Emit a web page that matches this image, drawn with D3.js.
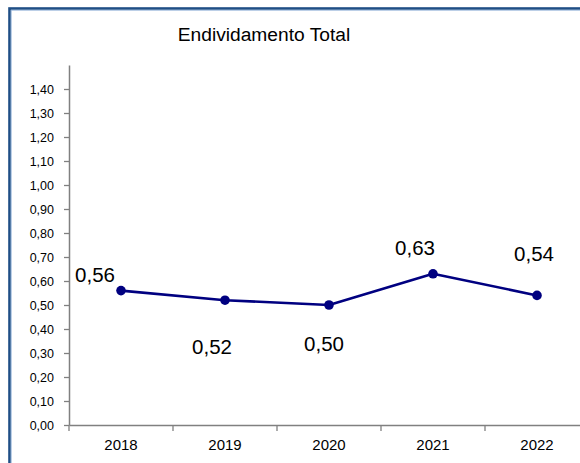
<!DOCTYPE html>
<html>
<head>
<meta charset="utf-8">
<script src="https://cdn.jsdelivr.net/npm/d3@7"></script>
<style>
  html, body { margin: 0; padding: 0; background: #fff; }
  svg { display: block; font-family: Arial, "Liberation Sans", sans-serif; }
</style>
</head>
<body>
<svg id="chart" width="580" height="463"></svg>
<script>
const title = "Endividamento Total";
const years = ["2018", "2019", "2020", "2021", "2022"];
const values = [0.56, 0.52, 0.50, 0.63, 0.54];
const yTicks = [0, 0.1, 0.2, 0.3, 0.4, 0.5, 0.6, 0.7, 0.8, 0.9, 1.0, 1.1, 1.2, 1.3, 1.4];
const yMax = 1.5;

// label placement offsets (relative to the point), layout only
const labelOffsets = [[-26, -9], [-13, 54], [-5, 46], [-18, -19], [-3, -34]];

const fmt = v => d3.format(".2f")(v).replace(".", ",");

const svg = d3.select("#chart");

// frame
svg.append("rect")
  .attr("x", 9.5).attr("y", 8.5)
  .attr("width", 600).attr("height", 500)
  .attr("fill", "#fff")
  .attr("stroke", "#1f4e85").attr("stroke-width", 2.6);
svg.append("rect")
  .attr("x", 11.2).attr("y", 10.2)
  .attr("width", 600).attr("height", 500)
  .attr("fill", "none")
  .attr("stroke", "#8fb0d8").attr("stroke-width", 0.8);

const mLeft = 69, mRight = 589, mTop = 65, mBottom = 425;

const x = d3.scaleBand().domain(years).range([mLeft, mRight]);
const y = d3.scaleLinear().domain([0, yMax]).range([mBottom, mTop]);

// title
svg.append("text")
  .attr("x", 264).attr("y", 41)
  .attr("text-anchor", "middle")
  .attr("font-size", 19.2)
  .attr("fill", "#000")
  .text(title);

// y axis
const yAxis = svg.append("g")
  .attr("transform", `translate(${mLeft},0)`)
  .call(d3.axisLeft(y).tickValues(yTicks).tickFormat(fmt).tickSize(5).tickPadding(10).tickSizeOuter(0));
yAxis.select(".domain").attr("stroke", "#808080").attr("stroke-width", 1.5);
yAxis.selectAll(".tick line").attr("stroke", "#808080").attr("stroke-width", 1.3);
yAxis.selectAll(".tick text").attr("font-size", 12.5).attr("fill", "#000")
  .attr("font-family", "Arial, 'Liberation Sans', sans-serif");

// x axis
const xAxis = svg.append("g")
  .attr("transform", `translate(0,${mBottom})`)
  .call(d3.axisBottom(x).tickSize(0).tickPadding(14));
xAxis.select(".domain").attr("stroke", "#808080").attr("stroke-width", 1.5);
xAxis.selectAll(".tick text").attr("font-size", 15).attr("fill", "#000")
  .attr("font-family", "Arial, 'Liberation Sans', sans-serif");
// category boundary ticks
svg.append("g").selectAll("line")
  .data(years)
  .join("line")
  .attr("x1", d => x(d)).attr("x2", d => x(d))
  .attr("y1", mBottom).attr("y2", mBottom + 6)
  .attr("stroke", "#808080").attr("stroke-width", 1.3);

const cx = d => x(d) + x.bandwidth() / 2;

// line
const line = d3.line()
  .x((d, i) => cx(years[i]))
  .y(d => y(d));
svg.append("path")
  .datum(values)
  .attr("fill", "none")
  .attr("stroke", "#000080")
  .attr("stroke-width", 2.6)
  .attr("stroke-linejoin", "round")
  .attr("d", line);

// markers
svg.append("g").selectAll("circle")
  .data(values)
  .join("circle")
  .attr("cx", (d, i) => cx(years[i]))
  .attr("cy", d => y(d))
  .attr("r", 4.8)
  .attr("fill", "#000080");

// data labels
svg.append("g").selectAll("text")
  .data(values)
  .join("text")
  .attr("x", (d, i) => cx(years[i]) + labelOffsets[i][0])
  .attr("y", (d, i) => y(d) + labelOffsets[i][1])
  .attr("text-anchor", "middle")
  .attr("font-size", 20.5)
  .attr("fill", "#000")
  .text(d => fmt(d));
</script>
</body>
</html>
